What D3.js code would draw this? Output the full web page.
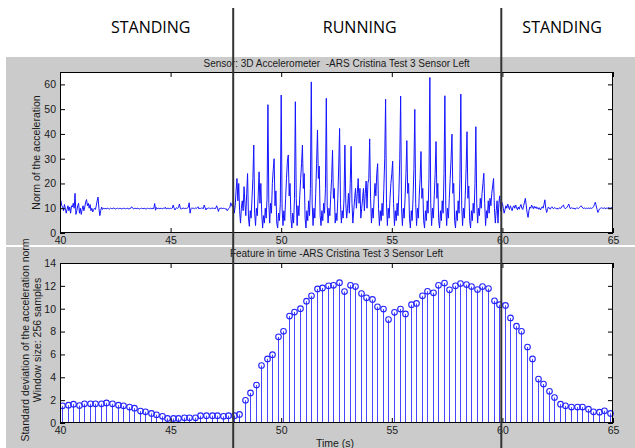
<!DOCTYPE html>
<html><head><meta charset="utf-8">
<script src="https://cdn.jsdelivr.net/npm/d3@7"></script>
<style>body{margin:0;background:#fff;} svg{display:block;} text{white-space:pre;}</style>
</head><body><svg id="c" width="635" height="448"></svg>
<script>
// ---------- data ----------
const phaseLabels = ["STANDING", "RUNNING", "STANDING"];
const phaseLabelTimes = [44.1, 53.55, 62.7];
const phaseBoundaries = [47.83, 59.95];
const xTicks = [40, 45, 50, 55, 60, 65];
const accTicks = [0, 10, 20, 30, 40, 50, 60];
const sdTicks = [0, 2, 4, 6, 8, 10, 12, 14];
const topTitle = "Sensor: 3D Accelerometer  -ARS Cristina Test 3 Sensor Left";
const bottomTitle = "Feature in time -ARS Cristina Test 3 Sensor Left";
const topYLabel = "Norm of the acceleration";
const bottomYLabel = ["Standard deviation of the acceleration norm", "Window size: 256 samples"];
const xLabel = "Time (s)";

// acceleration norm, one row per second starting at 40 s
const accelStart = 40;
const accelRows = [
  [12,13,11,10.5,9, 11.5,10,8,9.5,11, 9,10.5,8,11,10.5, 12,10,16,7.5,9, 11,12,8,10,7.5],
  [9.5,11,9,10.5,12.5, 13.5,11,12,10,11.5, 9,10,8.5,9.5,10, 9.5,11,13,14.5,10, 7,9,10.5,9.5,10],
  [9.8,10,9.7,9.9,10, 9.8,9.7,10,9.9,9.8, 10,10.1,9.8,9.7,9.9, 10,9.8,9.9,10,9.8, 9.7,9.9,10,9.9,9.8],
  [9.9,10,9.8,9.7,9.9, 10,10.6,10.2,9.7,9.9, 10,9.8,9.9,10,9.8, 9.7,9.9,10,9.9,9.8, 10,9.9,9.7,9.8,10],
  [9.9,9.8,10,9.9,9.7, 10,9.9,11.9,9.2,10.3, 9.8,10,9.9,9.8,10, 9.9,9.8,10,9.9,10.4, 9.7,9.9,10,9.9,9.8],
  [10,9.9,10.1,11.3,10, 9.3,10,10.2,9.9,10.4, 11.7,10,9.6,10,9.9, 10.1,9.8,10,9.9,10, 10.5,12.2,8,9.8,10.2],
  [9.9,10,9.8,10.1,9.9, 10.2,10.6,9.7,10,9.9, 10.1,10,9.8,11.3,10.2, 9.3,10,9.9,10.1,10, 9.8,10,9.9,10.2,9.8],
  [10,9.9,11,10.2,8.7, 9.8,10,9.9,10.1,9.8, 10,9.9,9.7,9.8,9, 9.6,9.9,10.4,12.2,11, 10.6,12.5,8,11,17],
  [22,13,20,9,4, 10,13,9,18.7,12, 7,16,24,6,2.7, 9,6,14,22,35.5, 8,3,10,7,15],
  [24.7,12,20,8,2, 7,4,10,6,14, 51.8,12,4,12,8, 20,25.6,30,11,17, 4,2,8,5,12],
  [55.7,10,3,9,5, 14,22,29,31.5,15, 20,6,2,8,4, 14,53,14,3,11, 7,15,22,28,35.5],
  [18,24,6,2,9, 5,13,7,18,61, 12,3,10,6,16, 28,41.6,22,27,7, 3,9,5,12,8],
  [18,54.4,11,4,10, 7,15,22,33.5,14, 18,4,8,5,14, 27,42.2,12,4,9, 6,14,35.5,12,6],
  [10,16,8,20,35, 12,4,9,14,18, 10,16,22,12,18, 6,10,14,18,9, 16,21,10,20,22],
  [38,14,4,10,6, 14,20,15,24,28, 10,3,9,5,12, 7,18,30,54,12, 3,10,6,14,20],
  [24,29,12,3,9, 5,12,7,16,30, 55.3,10,3,10,6, 14,24,37.3,16,20, 6,2,9,5,14],
  [26,49.9,12,3,10, 6,15,22,32.9,14, 18,5,2,9,5, 13,8,22,62.8,12, 3,10,6,15,24],
  [36.9,14,20,5,2, 9,5,13,8,24, 55.4,11,3,10,6, 14,22,30,39.9,16, 20,5,2,9,5],
  [13,8,22,56.1,11, 3,10,6,15,26, 40.9,14,19,5,2, 9,5,12,8,20, 42.9,12,4,10,7],
  [14,10,16,20,24.1, 12,3,9,6,13, 8,14,11,16,19, 22,10,4,9,13, 4,12,15,9,12.7],
  [12,10,8,9.5,11, 10,11.7,10.5,9.5,11, 10,9,10.5,11,10, 11.3,10.2,9.4,10.5,9.6, 10.8,11.5,10,9.5,11],
  [12.5,14,11,8,6.3, 9,10.5,10,11.3,10.5, 9.8,10.8,10,10.6,9.8, 10.3,9.6,10.2,9.3,10, 10.6,10,11.5,13.4,10],
  [8.3,9.5,10.5,10,9.6, 10.2,10.6,10,9.8,10.3, 10,9.7,10.1,9.6,10, 10.2,9.9,10.5,11,11.3, 10.2,9.8,10,10.4,11],
  [11.7,10.5,9.8,10.2,10, 9.9,10.1,9.6,9.8,10.2, 10,9.9,10.3,10.6,11, 10.5,10,9.9,10.1,9.8, 10,9.9,10.1,9.9,10],
  [10.1,9.9,10.2,10.6,11.5, 12.4,11,9.5,8.3,9.2, 9.8,10,10.2,10,9.9, 10.2,10,9.8,10.1,10, 10.3,10.1,10,10.2,10.4],
  [10.6]
];

// standard deviation feature (stem plot), one value every 0.25 s from 40.1 s
const stemStart = 40.1, stemStep = 0.25;
const stdValues = [
  1.50, 1.56, 1.65, 1.53, 1.68, 1.68, 1.68, 1.68, 1.76, 1.68,
  1.56, 1.50, 1.39, 1.30, 1.04, 0.98, 0.84, 0.72, 0.58, 0.40,
  0.40, 0.40, 0.46, 0.46, 0.46, 0.64, 0.64, 0.64, 0.64, 0.58,
  0.64, 0.64, 0.75, 1.99, 2.63, 3.32, 5.03, 5.61, 5.98, 7.54,
  8.03, 9.36, 9.71, 10.0, 10.66, 11.13, 11.73, 11.82, 12.0, 12.05,
  12.28, 11.50, 12.05, 11.94, 11.33, 10.95, 10.81, 10.17, 9.97, 9.05,
  9.68, 9.97, 9.54, 10.35, 10.46, 11.13, 11.53, 11.39, 12.05, 12.25,
  11.65, 12.0, 12.20, 12.11, 11.94, 11.68, 11.94, 11.76, 10.69, 10.35,
  10.29, 9.19, 8.47, 8.03, 6.65, 5.61, 3.84, 3.41, 2.77, 2.23,
  1.65, 1.50, 1.39, 1.39, 1.39, 1.21, 0.98, 0.95, 1.07, 0.84
];

// ---------- drawing ----------
const svg = d3.select("#c");
const W = 635, H = 448;
const L = 60, R = 613;
const top1 = 72, bot1 = 233, top2 = 263, bot2 = 423;
const gray = "#cbcbcb";
const font = "'Liberation Sans', Arial, sans-serif";

svg.append("rect").attr("width", W).attr("height", H).attr("fill", "#fff");
svg.append("rect").attr("x", 6).attr("y", 57).attr("width", W - 6).attr("height", 188).attr("fill", gray);
svg.append("rect").attr("x", 6).attr("y", 247).attr("width", W - 6).attr("height", H - 247).attr("fill", gray);

const x = d3.scaleLinear().domain([40, 65]).range([L, R]);
const yTop = d3.scaleLinear().domain([0, 65]).range([bot1, top1]);
const yBot = d3.scaleLinear().domain([0, 14]).range([bot2, top2]);

function axesBox(t, b) {
  svg.append("rect").attr("x", L).attr("y", t).attr("width", R - L).attr("height", b - t).attr("fill", "#fff");
}
axesBox(top1, bot1);
axesBox(top2, bot2);

const defs = svg.append("defs");
defs.append("clipPath").attr("id", "clipTop").append("rect").attr("x", L).attr("y", top1).attr("width", R - L).attr("height", bot1 - top1);
defs.append("clipPath").attr("id", "clipBot").append("rect").attr("x", L).attr("y", top2 - 5).attr("width", R - L + 4).attr("height", bot2 - top2 + 5);

// top signal
const accPoints = [];
accelRows.forEach((row, r) => row.forEach((v, j) => accPoints.push([accelStart + r + j / 25, v])));
svg.append("path")
  .datum(accPoints)
  .attr("clip-path", "url(#clipTop)")
  .attr("fill", "none")
  .attr("stroke", "#1414ff")
  .attr("stroke-width", 1)
  .attr("stroke-linejoin", "round")
  .attr("d", d3.line().x(d => x(d[0])).y(d => yTop(d[1])));

// stems
const stems = stdValues.map((v, i) => ({ t: stemStart + i * stemStep, v }));
const gStem = svg.append("g").attr("clip-path", "url(#clipBot)");
gStem.selectAll("line").data(stems).join("line")
  .attr("x1", d => Math.round(x(d.t)) + 0.5).attr("x2", d => Math.round(x(d.t)) + 0.5)
  .attr("y1", yBot(0)).attr("y2", d => yBot(d.v))
  .attr("stroke", "#4646ff").attr("stroke-width", 1);
gStem.selectAll("circle").data(stems).join("circle")
  .attr("cx", d => Math.round(x(d.t)) + 0.5).attr("cy", d => yBot(d.v))
  .attr("r", 2.8).attr("fill", "none").attr("stroke", "#2222ff").attr("stroke-width", 1.1);

// axes
function drawAxes(yScale, yTicks, t, b) {
  const bottom = d3.axisBottom(x).tickValues(xTicks).tickSizeInner(-5).tickSizeOuter(0).tickPadding(4);
  const topA = d3.axisTop(x).tickValues(xTicks).tickSizeInner(-5).tickSizeOuter(0).tickFormat("");
  const left = d3.axisLeft(yScale).tickValues(yTicks).tickSizeInner(-5).tickSizeOuter(0).tickPadding(4);
  const right = d3.axisRight(yScale).tickValues(yTicks).tickSizeInner(-5).tickSizeOuter(0).tickFormat("");
  const gs = [
    svg.append("g").attr("transform", `translate(0,${b})`).call(bottom),
    svg.append("g").attr("transform", `translate(0,${t})`).call(topA),
    svg.append("g").attr("transform", `translate(${L},0)`).call(left),
    svg.append("g").attr("transform", `translate(${R},0)`).call(right)
  ];
  gs.forEach(g => {
    g.select(".domain").remove();
    g.selectAll("line").attr("stroke", "#000");
    g.selectAll("text").attr("font-family", font).attr("font-size", 10.5).attr("fill", "#1a1a1a");
  });
  svg.append("rect").attr("x", L + 0.5).attr("y", t + 0.5).attr("width", R - L - 1).attr("height", b - t - 1)
    .attr("fill", "none").attr("stroke", "#000").attr("stroke-width", 1);
}
drawAxes(yTop, accTicks, top1, bot1);
drawAxes(yBot, sdTicks, top2, bot2);

// titles & labels
const cx = (L + R) / 2;
svg.append("text").attr("x", cx).attr("y", 66.5).attr("text-anchor", "middle")
  .attr("font-family", font).attr("font-size", 10).attr("fill", "#1a1a1a").text(topTitle);
svg.append("text").attr("x", cx).attr("y", 256.5).attr("text-anchor", "middle")
  .attr("font-family", font).attr("font-size", 10).attr("fill", "#1a1a1a").text(bottomTitle);
svg.append("text").attr("x", 335).attr("y", 446.5).attr("text-anchor", "middle")
  .attr("font-family", font).attr("font-size", 10.5).attr("fill", "#1a1a1a").text(xLabel);
svg.append("text").attr("transform", `translate(40,${(top1 + bot1) / 2}) rotate(-90)`).attr("text-anchor", "middle")
  .attr("font-family", font).attr("font-size", 10.5).attr("fill", "#1a1a1a").text(topYLabel);
bottomYLabel.forEach((s, i) => {
  svg.append("text").attr("transform", `translate(${29 + i * 12},${(top2 + bot2) / 2 - 3}) rotate(-90)`).attr("text-anchor", "middle")
    .attr("font-family", font).attr("font-size", 10.5).attr("fill", "#1a1a1a").text(s);
});

// phase labels
phaseLabels.forEach((s, i) => {
  svg.append("text").attr("x", x(phaseLabelTimes[i])).attr("y", 33).attr("text-anchor", "middle")
    .attr("font-family", "'Open Sans', sans-serif").attr("font-size", 16).attr("fill", "#000").text(s);
});

// phase boundary lines
phaseBoundaries.forEach(t => {
  svg.append("line").attr("x1", x(t)).attr("x2", x(t)).attr("y1", 8).attr("y2", H)
    .attr("stroke", "#333").attr("stroke-width", 2);
});
</script>
</body></html>
